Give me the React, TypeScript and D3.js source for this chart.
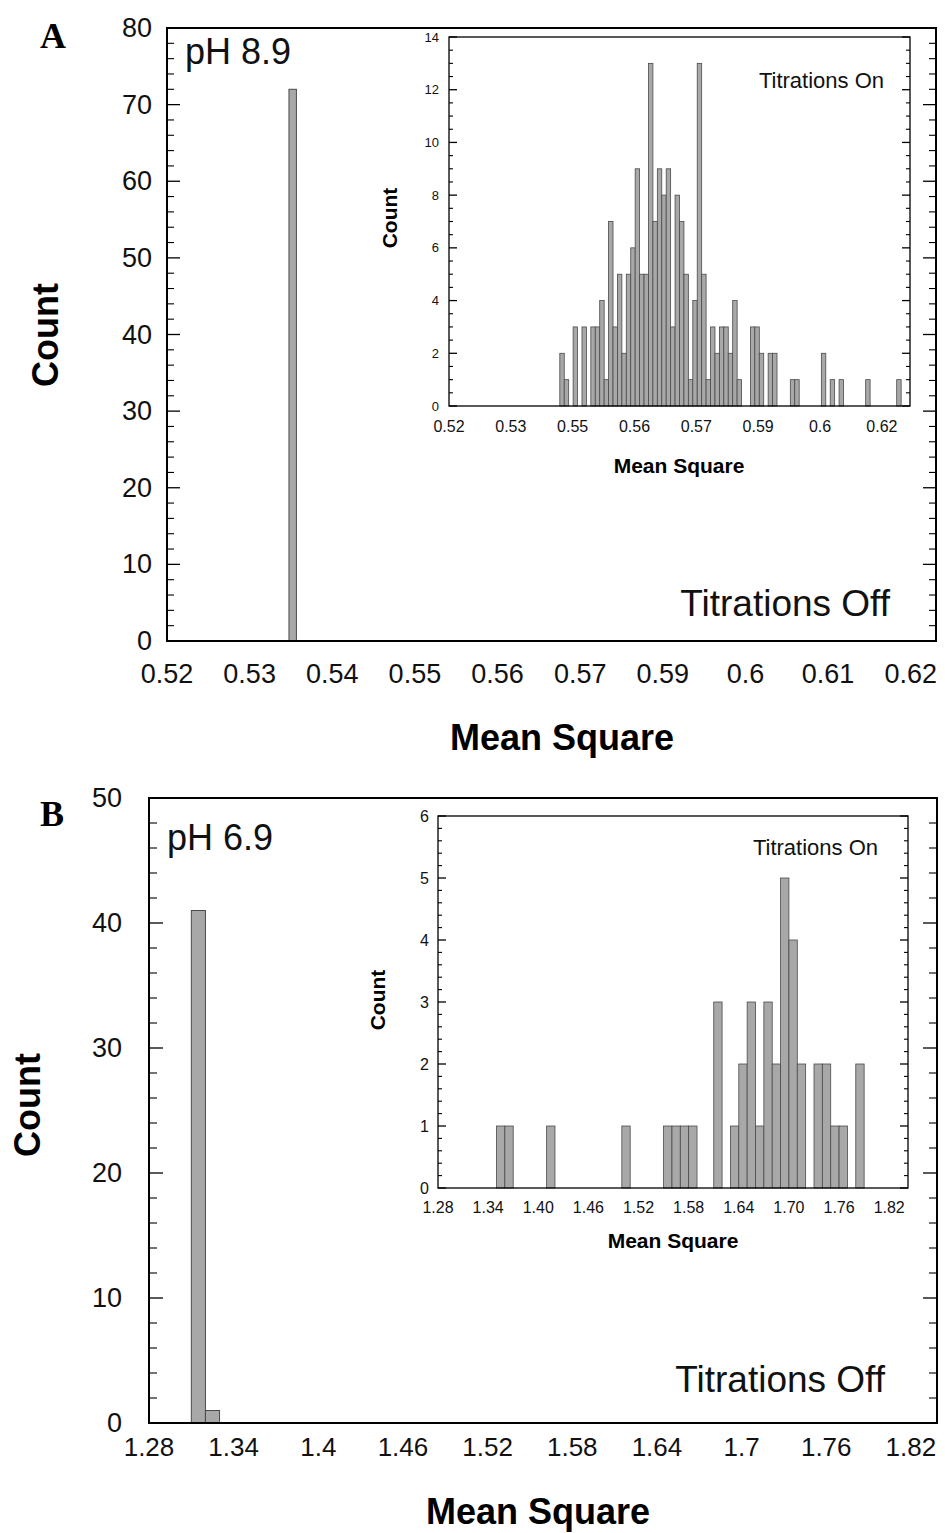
import * as d3 from "d3";
import React from "react";

// panel A (pH 8.9) - titrations off, single bin
const mainABinStarts = [0.5364];
const mainACounts = [72];
const mainAXLabels = ["0.52", "0.53", "0.54", "0.55", "0.56", "0.57", "0.59", "0.6", "0.61", "0.62"];

// panel A inset - titrations on, bins of 0.001 from 0.545
const insetABinStart = 0.545;
const insetACounts = [
  2, 1, 0, 3, 0, 3, 0, 3, 3, 4, 1, 7, 3, 5, 2, 5, 6, 9, 5, 5,
  13, 7, 9, 8, 9, 3, 8, 7, 5, 1, 4, 13, 5, 1, 3, 2, 3, 3, 2, 4,
  1, 0, 0, 3, 3, 2, 0, 2, 2, 0, 0, 0, 1, 1, 0, 0, 0, 0, 0, 2,
  0, 1, 0, 1, 0, 0, 0, 0, 0, 1, 0, 0, 0, 0, 0, 0, 1,
];
const insetAXLabels = ["0.52", "0.53", "0.55", "0.56", "0.57", "0.59", "0.6", "0.62"];

// panel B (pH 6.9)
const mainBBinStarts = [1.31, 1.32];
const mainBCounts = [41, 1];
const mainBXLabels = ["1.28", "1.34", "1.4", "1.46", "1.52", "1.58", "1.64", "1.7", "1.76", "1.82"];

const insetBBinStarts = [
  1.35, 1.36, 1.41, 1.5, 1.55, 1.56, 1.57, 1.58, 1.61, 1.63, 1.64, 1.65,
  1.66, 1.67, 1.68, 1.69, 1.7, 1.71, 1.73, 1.74, 1.75, 1.76, 1.78,
];
const insetBCounts = [1, 1, 1, 1, 1, 1, 1, 1, 3, 1, 2, 3, 1, 3, 2, 5, 4, 2, 2, 2, 1, 1, 2];
const insetBXLabels = ["1.28", "1.34", "1.40", "1.46", "1.52", "1.58", "1.64", "1.70", "1.76", "1.82"];

const SANS = "'Liberation Sans', Arial, Helvetica, sans-serif";
const SERIF = "'Liberation Serif', 'Times New Roman', serif";

type HistProps = {
  x0: number; x1: number; y0: number; y1: number;
  domain: [number, number];
  yMax: number; yMajor: number; yMinor: number;
  starts: number[]; counts: number[]; binWidth: number;
  tickStart: number; tickStep: number; xLabels: string[];
  majorLen: number; minorLen: number;
  yFont: number; xFont: number; yLabelGap: number; xLabelY: number;
  frameWidth: number; barStroke: number;
};

function Hist(p: HistProps) {
  const x = d3.scaleLinear().domain(p.domain).range([p.x0, p.x1]);
  const y = d3.scaleLinear().domain([0, p.yMax]).range([p.y1, p.y0]);
  const majors = d3.range(0, p.yMax + 1e-9, p.yMajor);
  const minors = d3
    .range(0, p.yMax + 1e-9, p.yMinor)
    .filter(v => Math.abs(v / p.yMajor - Math.round(v / p.yMajor)) > 1e-6);

  return (
    <g>
      <rect x={p.x0} y={p.y0} width={p.x1 - p.x0} height={p.y1 - p.y0} fill="#fff" />
      {/* bars */}
      {p.counts.map((c, i) => {
        if (!c) return null;
        const s = p.starts[i];
        const bx = x(s);
        const bw = x(s + p.binWidth) - bx;
        return (
          <rect key={i} x={bx} y={y(c)} width={bw} height={y(0) - y(c)}
            fill="#a8a8a8" stroke="#4a4a4a" strokeWidth={p.barStroke} />
        );
      })}
      {/* y ticks, left and right, pointing inward */}
      {majors.map((v, i) => (
        <g key={"M" + i}>
          <line x1={p.x0} x2={p.x0 + p.majorLen} y1={y(v)} y2={y(v)} stroke="#000" strokeWidth={1.3} />
          <line x1={p.x1} x2={p.x1 - p.majorLen} y1={y(v)} y2={y(v)} stroke="#000" strokeWidth={1.3} />
          <text x={p.x0 - p.yLabelGap} y={y(v)} fontSize={p.yFont} textAnchor="end"
            dominantBaseline="central" fontFamily={SANS} fill="#111">{v}</text>
        </g>
      ))}
      {minors.map((v, i) => (
        <g key={"m" + i}>
          <line x1={p.x0} x2={p.x0 + p.minorLen} y1={y(v)} y2={y(v)} stroke="#000" strokeWidth={1.1} />
          <line x1={p.x1} x2={p.x1 - p.minorLen} y1={y(v)} y2={y(v)} stroke="#000" strokeWidth={1.1} />
        </g>
      ))}
      {/* x labels */}
      {p.xLabels.map((l, i) => (
        <text key={"x" + i} x={x(p.tickStart + i * p.tickStep)} y={p.xLabelY} fontSize={p.xFont}
          textAnchor="middle" dominantBaseline="central" fontFamily={SANS} fill="#111">{l}</text>
      ))}
      <rect x={p.x0} y={p.y0} width={p.x1 - p.x0} height={p.y1 - p.y0} fill="none"
        stroke="#000" strokeWidth={p.frameWidth} />
    </g>
  );
}

export default function App() {
  const W = 945;
  const H = 1533;
  return (
    <div style={{ position: "absolute", left: 0, top: 0, background: "#fff" }}>
      <svg width={W} height={H} viewBox={`0 0 ${W} ${H}`}>
        <rect width={W} height={H} fill="#fff" />

        {/* ---------- A ---------- */}
        <text x={40} y={48} fontFamily={SERIF} fontWeight="bold" fontSize={36}>A</text>
        <Hist x0={167} x1={936} y0={28} y1={641} domain={[0.52, 0.6234]}
          yMax={80} yMajor={10} yMinor={2}
          starts={mainABinStarts} counts={mainACounts} binWidth={0.001}
          tickStart={0.52} tickStep={0.1 / 9} xLabels={mainAXLabels}
          majorLen={13} minorLen={7} yFont={27} xFont={27} yLabelGap={15} xLabelY={674}
          frameWidth={2} barStroke={1} />
        <text x={185} y={64} fontFamily={SANS} fontSize={36} fill="#111">pH 8.9</text>
        <text x={890} y={616} fontFamily={SANS} fontSize={37} textAnchor="end" fill="#111">Titrations Off</text>
        <text x={562} y={750} fontFamily={SANS} fontWeight="bold" fontSize={36} textAnchor="middle">Mean Square</text>
        <text transform="translate(58,335) rotate(-90)" fontFamily={SANS} fontWeight="bold"
          fontSize={36} textAnchor="middle">Count</text>

        {/* inset A */}
        <Hist x0={449} x1={910} y0={37} y1={406} domain={[0.52, 0.624]}
          yMax={14} yMajor={2} yMinor={0.5}
          starts={insetACounts.map((_, i) => insetABinStart + i * 0.001)} counts={insetACounts} binWidth={0.001}
          tickStart={0.52} tickStep={0.01395} xLabels={insetAXLabels}
          majorLen={8} minorLen={4} yFont={13} xFont={16} yLabelGap={10} xLabelY={426}
          frameWidth={1.3} barStroke={0.8} />
        <text x={884} y={88} fontFamily={SANS} fontSize={22} textAnchor="end" fill="#111">Titrations On</text>
        <text x={679} y={473} fontFamily={SANS} fontWeight="bold" fontSize={21} textAnchor="middle">Mean Square</text>
        <text transform="translate(397,218) rotate(-90)" fontFamily={SANS} fontWeight="bold"
          fontSize={21} textAnchor="middle">Count</text>

        {/* ---------- B ---------- */}
        <text x={40} y={826} fontFamily={SERIF} fontWeight="bold" fontSize={36}>B</text>
        <Hist x0={149} x1={937} y0={798} y1={1423} domain={[1.28, 1.8385]}
          yMax={50} yMajor={10} yMinor={2}
          starts={mainBBinStarts} counts={mainBCounts} binWidth={0.01}
          tickStart={1.28} tickStep={0.06} xLabels={mainBXLabels}
          majorLen={14} minorLen={8} yFont={27} xFont={26} yLabelGap={27} xLabelY={1447}
          frameWidth={2} barStroke={1} />
        <text x={167} y={850} fontFamily={SANS} fontSize={36} fill="#111">pH 6.9</text>
        <text x={885} y={1392} fontFamily={SANS} fontSize={37} textAnchor="end" fill="#111">Titrations Off</text>
        <text x={538} y={1524} fontFamily={SANS} fontWeight="bold" fontSize={36} textAnchor="middle">Mean Square</text>
        <text transform="translate(40,1105) rotate(-90)" fontFamily={SANS} fontWeight="bold"
          fontSize={36} textAnchor="middle">Count</text>

        {/* inset B */}
        <Hist x0={438} x1={908} y0={816} y1={1188} domain={[1.28, 1.8425]}
          yMax={6} yMajor={1} yMinor={0.2}
          starts={insetBBinStarts} counts={insetBCounts} binWidth={0.01}
          tickStart={1.28} tickStep={0.06} xLabels={insetBXLabels}
          majorLen={8} minorLen={4} yFont={16} xFont={16} yLabelGap={9} xLabelY={1207}
          frameWidth={1.3} barStroke={0.8} />
        <text x={878} y={855} fontFamily={SANS} fontSize={22} textAnchor="end" fill="#111">Titrations On</text>
        <text x={673} y={1248} fontFamily={SANS} fontWeight="bold" fontSize={21} textAnchor="middle">Mean Square</text>
        <text transform="translate(385,1000) rotate(-90)" fontFamily={SANS} fontWeight="bold"
          fontSize={21} textAnchor="middle">Count</text>
      </svg>
    </div>
  );
}
